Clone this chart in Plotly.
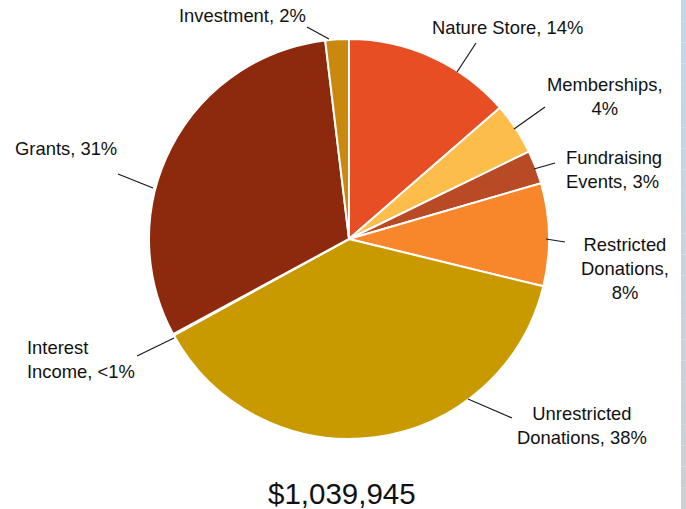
import plotly.graph_objects as go

W, H = 686, 509

# Revenue sources, share of total (%)
categories = ["Nature Store", "Memberships", "Fundraising Events", "Restricted Donations",
              "Unrestricted Donations", "Interest Income", "Grants", "Investment"]
shares = [13.6, 4.2, 2.7, 8.3, 38.2, 0.1, 31.0, 1.9]
colors = ["#E84E24", "#FDBD4A", "#B84A26", "#F8862A", "#C99A00", "#D9A441", "#8D2A0E", "#C8890E"]
total_label = "$1,039,945"


def pct_text(v):
    return "<1%" if v < 1 else f"{round(v)}%"


# label layout: category -> (line breaks, x px, y px, anchor, align)
label_layout = {
    "Nature Store": ("{c}, {p}", 507, 27, "center", "center"),
    "Memberships": ("Memberships,<br>{p}", 605, 96, "center", "center"),
    "Fundraising Events": ("Fundraising<br>Events, {p}", 564, 170, "left", "left"),
    "Restricted Donations": ("Restricted<br>Donations,<br>{p}", 625, 268, "center", "center"),
    "Unrestricted Donations": ("Unrestricted<br>Donations, {p}", 582, 425, "center", "center"),
    "Interest Income": ("Interest<br>Income, {p}", 25, 359, "left", "left"),
    "Grants": ("{c}, {p}", 13, 148, "left", "left"),
    "Investment": ("{c}, {p}", 242, 16, "center", "center"),
}

# leader lines (label end -> pie edge), px
leaders = {
    "Nature Store": (476, 43, 457, 72),
    "Memberships": (545, 107, 514, 129),
    "Fundraising Events": (555, 163, 534, 169),
    "Restricted Donations": (565, 242, 546, 239),
    "Unrestricted Donations": (512, 418, 468, 399),
    "Interest Income": (137, 356, 174, 338),
    "Grants": (118, 174, 153, 188),
    "Investment": (307, 27, 329, 39),
}


def px(x):
    return x / W


def py(y):
    return 1 - y / H


fig = go.Figure(go.Pie(
    labels=categories,
    values=shares,
    sort=False,
    direction="clockwise",
    rotation=0,
    marker=dict(colors=colors, line=dict(color="white", width=2)),
    textinfo="none",
    hoverinfo="label+percent",
    domain=dict(x=[px(149), px(549)], y=[py(440), py(38)]),
    showlegend=False,
))

font = dict(family="Liberation Sans, Arial, sans-serif", size=18.4, color="#111111")
annotations = []
for cat, val in zip(categories, shares):
    tmpl, x, y, anchor, align = label_layout[cat]
    annotations.append(dict(
        text=tmpl.format(c=cat, p=pct_text(val)),
        x=px(x), y=py(y), xref="paper", yref="paper",
        xanchor=anchor, yanchor="middle", align=align,
        showarrow=False, font=font,
    ))

annotations.append(dict(
    text=total_label, x=px(342), y=py(493), xref="paper", yref="paper",
    xanchor="center", yanchor="middle", showarrow=False,
    font=dict(family="Liberation Sans, Arial, sans-serif", size=29.5, color="#111111"),
))

shapes = []
for cat in categories:
    x0, y0, x1, y1 = leaders[cat]
    shapes.append(dict(type="line", xref="paper", yref="paper",
                       x0=px(x0), y0=py(y0), x1=px(x1), y1=py(y1),
                       line=dict(color="#1a1a1a", width=1.2)))

# slide edge strip on the right, light blue fading to grey
n_bands = 24
top_rgb = (190, 215, 238)
bot_rgb = (204, 207, 212)
for i in range(n_bands):
    t = i / (n_bands - 1)
    c = tuple(round(a + (b - a) * t) for a, b in zip(top_rgb, bot_rgb))
    shapes.append(dict(type="rect", xref="paper", yref="paper",
                       x0=px(681), x1=1.0, y0=1 - (i + 1) / n_bands, y1=1 - i / n_bands,
                       fillcolor=f"rgb{c}", line=dict(width=0), layer="below"))

fig.update_layout(
    width=W, height=H,
    margin=dict(l=0, r=0, t=0, b=0),
    paper_bgcolor="white", plot_bgcolor="white",
    annotations=annotations, shapes=shapes,
)

fig.write_html("out.html")
